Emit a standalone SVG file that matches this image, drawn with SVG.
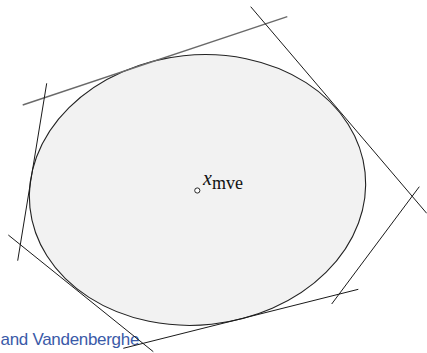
<svg xmlns="http://www.w3.org/2000/svg" width="427" height="353" viewBox="0 0 427 353">
<style>
.ln{stroke:#1a1a1a;stroke-width:1;fill:none}
.gr{stroke:#6a6a6a;stroke-width:1.4;fill:none}
.lbl{font-family:"Liberation Serif","Times New Roman",serif;fill:#111}
.cap{font-family:"Liberation Sans",Arial,sans-serif;font-size:17px;letter-spacing:-0.3px;fill:#3a5aa8}
</style>
<rect width="427" height="353" fill="#ffffff"/>
<text class="cap" x="0.5" y="345">and Vandenberghe</text>
<g id="ellipse">
<ellipse cx="197.5" cy="190" rx="168.5" ry="135" transform="rotate(-6 197.5 190)" fill="#f2f2f2" stroke="#222" stroke-width="1.1"/>
</g>
<g id="center">
<circle cx="197.3" cy="190.5" r="2.6" fill="#fff" stroke="#111" stroke-width="0.9"/>
<text class="lbl" x="203" y="184.5"><tspan font-style="italic" font-size="20">x</tspan><tspan font-size="18" dy="4.3">mve</tspan></text>
</g>
<g id="connectors">
<line class="gr" x1="22.7" y1="105" x2="287.3" y2="16.7"/>
<line class="ln" x1="250.7" y1="6.7" x2="426.7" y2="213.3"/>
<line class="ln" x1="419.3" y1="186.7" x2="331.7" y2="304"/>
<line class="ln" x1="358.3" y1="289.3" x2="123.3" y2="348.3"/>
<line class="ln" x1="8.3" y1="235" x2="153.3" y2="351.7"/>
<line class="ln" x1="46.7" y1="83.3" x2="17.7" y2="260.7"/>
</g>
</svg>
